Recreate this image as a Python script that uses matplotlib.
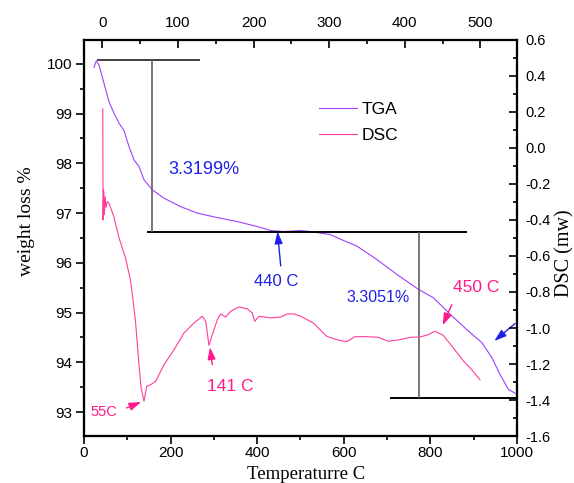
import matplotlib
matplotlib.use("Agg")
import matplotlib.pyplot as plt
from matplotlib.ticker import MultipleLocator, FormatStrFormatter

plt.rcParams["font.family"] = ["Liberation Sans", "DejaVu Sans"]
plt.rcParams["axes.unicode_minus"] = False

# ── data ─────────────────────────────────────────────────────────────────────
tga_temp = [23.1, 28.4, 34.6, 46.2, 57.7, 69.3, 80.8, 92.4, 103.9, 115.5, 127.0,
            138.6, 157.7, 184.8, 223.3, 261.7, 307.9, 354.0, 400.2, 431.2, 461.9,
            500.5, 521.9, 568.1, 591.2, 629.8, 676.0, 722.2, 772.1, 806.7, 845.3,
            883.8, 918.5, 941.6, 960.7, 979.9, 999.3]
tga_weight = [99.93, 100.06, 99.98, 99.61, 99.24, 99.01, 98.81, 98.66, 98.34, 98.07,
              97.94, 97.67, 97.47, 97.30, 97.13, 97.00, 96.91, 96.83, 96.73, 96.65,
              96.63, 96.65, 96.63, 96.57, 96.48, 96.34, 96.07, 95.77, 95.47, 95.30,
              94.97, 94.66, 94.40, 94.10, 93.76, 93.46, 93.36]

dsc_temp = [43.5, 44.0, 45.5, 47.0, 49.0, 51.0, 54.0, 58.0, 69, 81, 96, 108, 119,
            127, 132, 138.6, 144.8, 154, 165.6, 184.8, 207.9, 230.9, 254, 273.2,
            281.1, 288.7, 296.3, 307.9, 315.7, 327.3, 338.8, 358, 377.1, 388.7,
            394.2, 404.2, 431.2, 454.3, 469.5, 485, 500.5, 529.6, 560.5, 583.6,
            606.7, 625.9, 652.9, 679.7, 702.8, 729.8, 752.9, 776, 795.2, 810.6,
            829.8, 852.9, 876, 895.4, 914.5]
dsc_mw = [0.217, -0.40, -0.23, -0.37, -0.27, -0.33, -0.298, -0.307, -0.382, -0.50,
          -0.611, -0.741, -0.963, -1.204, -1.333, -1.407, -1.324, -1.315, -1.296,
          -1.204, -1.121, -1.028, -0.972, -0.935, -0.963, -1.096, -1.037, -0.954,
          -0.922, -0.939, -0.907, -0.883, -0.894, -0.917, -0.963, -0.935, -0.944,
          -0.939, -0.922, -0.922, -0.935, -0.972, -1.046, -1.065, -1.076, -1.048,
          -1.048, -1.052, -1.074, -1.065, -1.052, -1.050, -1.037, -1.018, -1.041,
          -1.111, -1.182, -1.232, -1.287]

# weight-loss step brackets: plateau levels and where they are drawn
step_levels = [100.07, 96.63, 93.28]
step_spans = [(30.7, 268), (146, 884), (706.7, 1000)]
step_drops = [157.3, 773.8]

TGA_C = "#A040FF"
DSC_C = "#FF3C9E"
PINK = "#FF1A8C"
BLUE = "#2020E8"

# ── figure ───────────────────────────────────────────────────────────────────
fig = plt.figure(figsize=(5.74, 4.83), dpi=100)
ax = fig.add_axes([0.1463, 0.0973, 0.7544, 0.8199])
ax2 = ax.twinx()
ax3 = ax.twiny()

l1, = ax.plot(tga_temp, tga_weight, color=TGA_C, lw=0.8, label="TGA")
l2, = ax2.plot(dsc_temp, dsc_mw, color=DSC_C, lw=0.8, label="DSC")

# brackets
ax.hlines(step_levels[0], *step_spans[0], color="#404040", lw=1.4)
ax.hlines(step_levels[1], *step_spans[1], color="black", lw=1.4)
ax.hlines(step_levels[2], *step_spans[2], color="black", lw=1.4)
ax.vlines(step_drops[0], step_levels[1], step_levels[0], color="#606060", lw=1.2)
ax.vlines(step_drops[1], step_levels[2], step_levels[1], color="#606060", lw=1.2)

# limits / ticks
ax.set_xlim(0, 1000)
ax.set_ylim(92.52, 100.48)
ax2.set_ylim(-1.6, 0.6)
ax3.set_xlim(-24.5, 548.6)

ax.xaxis.set_major_locator(MultipleLocator(200))
ax.xaxis.set_minor_locator(MultipleLocator(100))
ax.yaxis.set_major_locator(MultipleLocator(1))
ax.yaxis.set_minor_locator(MultipleLocator(0.5))
ax2.yaxis.set_major_locator(MultipleLocator(0.2))
ax2.yaxis.set_minor_locator(MultipleLocator(0.1))
ax2.yaxis.set_major_formatter(FormatStrFormatter("%.1f"))
ax3.xaxis.set_major_locator(MultipleLocator(100))
ax3.xaxis.set_minor_locator(MultipleLocator(50))

ax.tick_params(axis="y", which="both", direction="out", labelsize=11, pad=3, width=1.2)
ax.tick_params(axis="x", which="both", direction="out", labelsize=11, pad=1.5, width=1.2)
ax2.tick_params(axis="y", which="both", direction="in", labelsize=10.5, pad=6, width=1.2)
ax3.tick_params(axis="x", which="both", direction="in", labelsize=11, pad=7, width=1.2)
for a in (ax, ax2, ax3):
    a.tick_params(which="major", length=5.5)
    a.tick_params(which="minor", length=3)
    for s in a.spines.values():
        s.set_linewidth(1.5)

ax.set_xlabel("Temperaturre C", family="Liberation Serif", fontsize=13.5, va="center")
ax.xaxis.set_label_coords(0.512, -0.096)
ax.set_ylabel("weight loss %", family="Liberation Serif", fontsize=14, va="center")
ax.yaxis.set_label_coords(-0.133, 0.543)
ax2.set_ylabel("DSC (mw)", family="Liberation Serif", fontsize=14.5, va="center",
               rotation=90)
ax2.yaxis.set_label_coords(1.11, 0.462)

# annotations
ax.text(276.4, 97.87, "3.3199%", color=BLUE, fontsize=13, ha="center", va="center")
ax.text(679, 95.30, "3.3051%", color=BLUE, fontsize=11.5, ha="center", va="center")
arrow_blue = dict(arrowstyle="-|>,head_length=0.6,head_width=0.2", color=BLUE,
                  lw=1.0, mutation_scale=12, shrinkA=0, shrinkB=0)
arrow_pink = dict(arrowstyle="-|>,head_length=0.6,head_width=0.2", color=PINK,
                  lw=1.0, mutation_scale=12, shrinkA=0, shrinkB=0)
ax.annotate("", xy=(446.9, 96.63), xytext=(454.3, 95.94), arrowprops=arrow_blue)
ax.text(443.4, 95.62, "440 C", color=BLUE, fontsize=12, ha="center", va="center")
ax.annotate("", xy=(947.6, 94.43), xytext=(995.4, 94.78), arrowprops=arrow_blue)

ax2.annotate("", xy=(291, -1.107), xytext=(296.3, -1.204), arrowprops=arrow_pink)
ax2.text(337.2, -1.324, "141 C", color=PINK, fontsize=12.5, ha="center", va="center")
ax2.annotate("", xy=(132.3, -1.411), xytext=(98.6, -1.444), arrowprops=arrow_pink)
ax2.text(46.9, -1.468, "55C", color=PINK, fontsize=10.5, ha="center", va="center")
ax2.annotate("", xy=(828.4, -0.985), xytext=(849.2, -0.871), arrowprops=arrow_pink)
ax2.text(906.9, -0.774, "450 C", color=PINK, fontsize=12.5, ha="center", va="center")

# legend
ax3.legend(handles=[l1, l2], loc="upper left", bbox_to_anchor=(0.543, 0.843),
           frameon=False, fontsize=12.5, borderpad=0, borderaxespad=0,
           handlelength=2.19, handletextpad=0.25, labelspacing=0.6)

fig.savefig("out.png", dpi=100)
